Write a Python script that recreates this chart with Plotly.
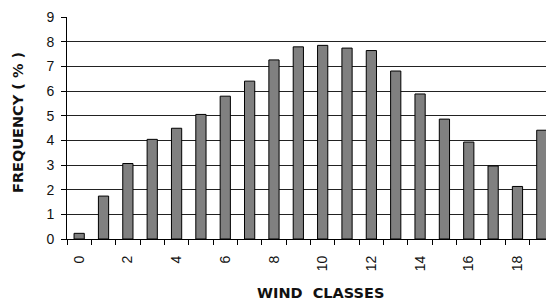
import plotly.graph_objects as go

classes = list(range(20))
frequency = [0.23, 1.74, 3.06, 4.04, 4.49, 5.05, 5.79, 6.40, 7.26, 7.79,
             7.85, 7.74, 7.64, 6.81, 5.88, 4.86, 3.93, 2.96, 2.13, 4.41]
x_tick_vals = [0, 2, 4, 6, 8, 10, 12, 14, 16, 18]
x_tick_text = [str(v) for v in x_tick_vals]
y_tick_vals = list(range(10))

# page body has an 8px margin; compensate so the plot lands where the reference has it
OFF = 8
W, H = 554 - OFF, 302 - OFF
L, R, T, B = 67 - OFF, 0, 17 - OFF, 63

fig = go.Figure()
fig.add_trace(go.Bar(
    x=classes, y=frequency, width=0.42,
    marker=dict(color="#808080", line=dict(color="#000000", width=1)),
))

fig.update_layout(
    width=W, height=H,
    margin=dict(l=L, r=R, t=T, b=B),
    plot_bgcolor="white", paper_bgcolor="white",
    showlegend=False,
    font=dict(family="Liberation Sans, Arial, sans-serif", color="#111111"),
)
fig.update_xaxes(
    range=[-0.5, 19.5], tickmode="array", tickvals=x_tick_vals, ticktext=x_tick_text,
    tickangle=-90, tickfont=dict(size=14), ticks="outside", ticklen=10,
    tickcolor="rgba(0,0,0,0)",
    showline=True, linecolor="#000000", linewidth=1, showgrid=False, zeroline=False,
    minor=dict(tickmode="array", tickvals=[i + 0.5 for i in range(-1, 20)],
               ticks="outside", ticklen=5, tickcolor="#000000", tickwidth=1, showgrid=False),
)
fig.update_yaxes(
    range=[0, 9], tickmode="array", tickvals=y_tick_vals,
    tickfont=dict(size=14), ticks="outside", ticklen=5, tickcolor="#000000",
    ticklabelstandoff=4,
    showline=True, linecolor="#000000", linewidth=1,
    showgrid=True, gridcolor="#222222", gridwidth=1, zeroline=False,
)

plot_w = W - L - R
plot_h = H - T - B
title_font = dict(family="DejaVu Sans, sans-serif", size=14.5, color="#111111")
# pixel targets in the final screenshot (plot spans x 67..554, y 17..239)
fig.add_annotation(
    text="<b>WIND  CLASSES</b>", xref="paper", yref="paper",
    x=(320 - 67) / plot_w, y=(239 - 293) / plot_h,
    xanchor="center", yanchor="middle", showarrow=False,
    font=title_font,
)
fig.add_annotation(
    text="<b>FREQUENCY ( % )</b>", xref="paper", yref="paper",
    x=(18 - 67) / plot_w, y=(239 - 123) / plot_h, textangle=-90,
    xanchor="center", yanchor="middle", showarrow=False,
    font=title_font,
)

fig.write_html("out.html")
